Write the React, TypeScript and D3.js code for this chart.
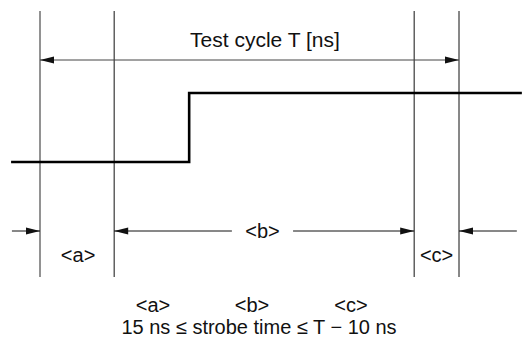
import React from "react";
import * as d3 from "d3";

// Time axis in percent of test cycle T (0 = cycle start, 100 = cycle end)
const markerTimes = [0, 17.7, 89.3, 100];
const markerNames = ["cycleStart", "strobeMin", "strobeMax", "cycleEnd"];
const signalTimes = [-6.9, 35.6, 35.6, 115];
const signalLevels = [0, 0, 1, 1];
const dimExtent = [-6.7, 113.8];
const bGap = [45.8, 60.4];
const regionLabels = ["<a>", "<b>", "<c>"];
const titleText = "Test cycle T [ns]";
const formulaText = "15 ns \u2264 strobe time \u2264 T \u2212 10 ns";

const W = 527;
const H = 347;

export default function App() {
  const x = d3.scaleLinear().domain([0, 100]).range([40, 459]);
  const y = d3.scaleLinear().domain([0, 1]).range([162, 93]);

  const line = d3
    .line<number>()
    .x((_, i) => x(signalTimes[i]))
    .y((d) => y(d));

  const font = "Liberation Sans, Arial, Helvetica, sans-serif";
  const vTop = 11;
  const vBot = 277;
  const arrowY = 60;
  const dimY = 231;

  const head = (tipX: number, yy: number, dir: number, len = 14, hw = 3.6) => {
    const p = d3.path();
    p.moveTo(tipX, yy);
    p.lineTo(tipX - dir * len, yy - hw);
    p.lineTo(tipX - dir * len, yy + hw);
    p.closePath();
    return p.toString();
  };

  const [t0, ta, tb, tc] = markerTimes;
  const fs = 20;

  return (
    <svg
      width={W}
      height={H}
      style={{ position: "absolute", left: 0, top: 0, background: "#fff" }}
      fontFamily={font}
    >
      {/* vertical markers */}
      {markerTimes.map((t, i) => (
        <line
          key={markerNames[i]}
          x1={x(t)}
          x2={x(t)}
          y1={vTop}
          y2={vBot}
          stroke={i === 0 ? "#777" : "#111"}
          strokeWidth={i === 0 ? 1.6 : 1}
        />
      ))}

      {/* Test cycle arrow */}
      <line x1={x(t0)} x2={x(tc)} y1={arrowY} y2={arrowY} stroke="#444" strokeWidth={1} />
      <path d={head(x(t0), arrowY, -1)} fill="#111" />
      <path d={head(x(tc), arrowY, 1)} fill="#111" />
      <text x={265} y={47} textAnchor="middle" fontSize={21} fill="#111">
        {titleText}
      </text>

      {/* signal */}
      <path d={line(signalLevels) || ""} fill="none" stroke="#000" strokeWidth={2.6} />

      {/* dimension arrows */}
      <line x1={x(dimExtent[0])} x2={x(t0)} y1={dimY} y2={dimY} stroke="#111" />
      <path d={head(x(t0), dimY, 1)} fill="#111" />
      <line x1={x(ta)} x2={x(bGap[0])} y1={dimY} y2={dimY} stroke="#111" />
      <path d={head(x(ta), dimY, -1)} fill="#111" />
      <line x1={x(bGap[1])} x2={x(tb)} y1={dimY} y2={dimY} stroke="#111" />
      <path d={head(x(tb), dimY, 1)} fill="#111" />
      <line x1={x(tc)} x2={x(dimExtent[1])} y1={dimY} y2={dimY} stroke="#111" />
      <path d={head(x(tc), dimY, -1)} fill="#111" />

      <text x={(x(bGap[0]) + x(bGap[1])) / 2} y={dimY + 7} textAnchor="middle" fontSize={fs} fill="#111">
        {regionLabels[1]}
      </text>
      <text x={(x(t0) + x(ta)) / 2 + 1} y={262} textAnchor="middle" fontSize={fs} fill="#111">
        {regionLabels[0]}
      </text>
      <text x={(x(tb) + x(tc)) / 2} y={262} textAnchor="middle" fontSize={fs} fill="#111">
        {regionLabels[2]}
      </text>

      {/* formula */}
      {regionLabels.map((l, i) => (
        <text key={l} x={153 + i * 99} y={312} textAnchor="middle" fontSize={fs} fill="#111">
          {l}
        </text>
      ))}
      <text x={259} y={334} textAnchor="middle" fontSize={fs} fill="#111">
        {formulaText}
      </text>
    </svg>
  );
}
